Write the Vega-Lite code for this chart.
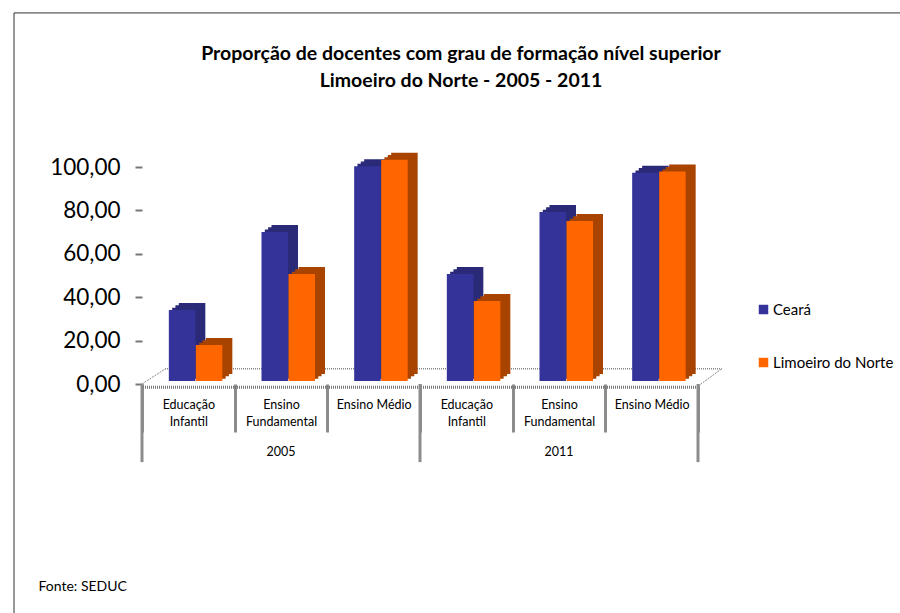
{"$schema":"https://vega.github.io/schema/vega-lite/v6.json","width":556,"height":217,"autosize":"none","padding":{"left":142,"top":167,"right":202,"bottom":229},"background":"white","config":{"view":{"stroke":null},"font":"Lato"},
"title":{"text":["Proporção de docentes com grau de formação nível superior","Limoeiro do Norte - 2005 - 2011"],"font":"Lato","fontSize":19.5,"fontWeight":"bold","color":"#000000","anchor":"middle","frame":"group","offset":0,"dy":79,"dx":41,"lineHeight":27},
"datasets":{"barras":[
{"chave":"2005 Educação Infantil","serie":"Ceará","valor":32.7},{"chave":"2005 Educação Infantil","serie":"Limoeiro do Norte","valor":16.6},
{"chave":"2005 Ensino Fundamental","serie":"Ceará","valor":68.7},{"chave":"2005 Ensino Fundamental","serie":"Limoeiro do Norte","valor":49.3},
{"chave":"2005 Ensino Médio","serie":"Ceará","valor":99},{"chave":"2005 Ensino Médio","serie":"Limoeiro do Norte","valor":102},
{"chave":"2011 Educação Infantil","serie":"Ceará","valor":49.3},{"chave":"2011 Educação Infantil","serie":"Limoeiro do Norte","valor":36.9},
{"chave":"2011 Ensino Fundamental","serie":"Ceará","valor":77.9},{"chave":"2011 Ensino Fundamental","serie":"Limoeiro do Norte","valor":73.7},
{"chave":"2011 Ensino Médio","serie":"Ceará","valor":96},{"chave":"2011 Ensino Médio","serie":"Limoeiro do Norte","valor":96.5}]},
"data":{"name":"barras"},
"encoding":{"y":{"field":"valor","type":"quantitative","scale":{"domain":[0,100],"nice":false},"axis":{"title":null,"domain":false,"grid":false,"values":[0,20,40,60,80,100],"labelExpr":"replace(format(datum.value,'.2f'),'.',',')","labelFont":"Lato","labelFontSize":22.5,"labelColor":"#000000","tickColor":"#777777","tickWidth":2,"tickSize":7,"labelPadding":15}},
"x":{"field":"chave","type":"nominal","scale":{"paddingInner":0,"paddingOuter":0},"axis":{"title":"Fonte: SEDUC","titleX":-104,"titleY":202,"titleAlign":"left","titleBaseline":"middle","titleFont":"Lato","titleFontSize":14,"titleFontWeight":"normal","titleColor":"#000000","orient":"bottom","domain":false,"tickBand":"extent","tickSize":48,"tickColor":"#8c8c8c","tickWidth":3,"labelAngle":0,"labelPadding":-34,"labelBaseline":"top","labelLineHeight":17,"labelFont":"Lato","labelFontSize":12.5,"labelColor":"#000000","labelExpr":"!isString(datum.value) ? '' : indexof(datum.value,'Médio')>=0 ? 'Ensino Médio' : split(slice(datum.value,5),' ')"}}},
"layer":[
{"data":{"values":[{"chave":"2005 Educação Infantil","fim":"2011 Ensino Médio","v":171}]},"mark":{"type":"rule","color":"#333333","strokeWidth":1,"xOffset":-128,"x2Offset":249},"encoding":{"x":{"field":"chave","type":"nominal","bandPosition":0},"x2":{"field":"fim"},"y":{"field":"v","type":"quantitative"}}},
{"data":{"values":[{"chave":"2005 Educação Infantil","v":171,"v2":-106}]},"mark":{"type":"rule","color":"#333333","strokeWidth":1,"xOffset":-128},"encoding":{"x":{"field":"chave","type":"nominal","bandPosition":0},"y":{"field":"v","type":"quantitative"},"y2":{"field":"v2"}}},
{"data":{"values":[{"chave":"2005 Educação Infantil","fim":"2011 Ensino Médio","v":7}]},"mark":{"type":"rule","color":"#888888","strokeWidth":1.5,"strokeDash":[1,1],"xOffset":23,"x2Offset":70},"encoding":{"x":{"field":"chave","type":"nominal","bandPosition":0},"x2":{"field":"fim"},"y":{"field":"v","type":"quantitative"}}},
{"data":{"values":[{"v":-1.5}]},"mark":{"type":"rule","color":"#777777","strokeWidth":3,"strokeDash":[1,1]},"encoding":{"x":null,"y":{"field":"v","type":"quantitative"}}},
{"data":{"values":[{"chave":"2005 Educação Infantil","fim":"2005 Educação Infantil","v":0,"v2":7}]},"mark":{"type":"rule","color":"#888888","strokeWidth":1,"strokeDash":[2,1],"x2Offset":-23},"encoding":{"x":{"field":"chave","type":"nominal","bandPosition":0},"x2":{"field":"fim"},"y":{"field":"v","type":"quantitative"},"y2":{"field":"v2"}}},
{"data":{"values":[{"chave":"2011 Ensino Médio","fim":"2011 Ensino Médio","v":-1,"v2":7}]},"mark":{"type":"rule","color":"#888888","strokeWidth":1,"strokeDash":[2,1],"x2Offset":70},"encoding":{"x":{"field":"chave","type":"nominal","bandPosition":1},"x2":{"field":"fim"},"y":{"field":"v","type":"quantitative"},"y2":{"field":"v2"}}},
{"data":{"values":[{"chave":"2005 Educação Infantil","v":0,"v2":-36},{"chave":"2011 Educação Infantil","v":0,"v2":-36}]},"mark":{"type":"rule","color":"#8c8c8c","strokeWidth":3},"encoding":{"x":{"field":"chave","type":"nominal","bandPosition":0},"y":{"field":"v","type":"quantitative"},"y2":{"field":"v2"}}},
{"data":{"values":[{"chave":"2011 Ensino Médio","v":0,"v2":-36}]},"mark":{"type":"rule","color":"#8c8c8c","strokeWidth":3},"encoding":{"x":{"field":"chave","type":"nominal","bandPosition":1},"y":{"field":"v","type":"quantitative"},"y2":{"field":"v2"}}},
{"data":{"values":[{"chave":"2005 Ensino Fundamental","ano":"2005","v":-31.5},{"chave":"2011 Ensino Fundamental","ano":"2011","v":-31.5}]},"mark":{"type":"text","font":"Lato","fontSize":12.5,"color":"#000000"},"encoding":{"text":{"field":"ano"},"y":{"field":"v","type":"quantitative"}}},
{"transform":[{"filter":"datum.serie==='Ceará'"}],"mark":{"type":"bar","width":26.5,"color":"#2a2a78","xOffset":3.75,"yOffset":-10,"y2Offset":-10}},
{"transform":[{"filter":"datum.serie==='Ceará'"}],"mark":{"type":"bar","width":26.5,"color":"#2a2a78","xOffset":0.35,"yOffset":-7.7,"y2Offset":-7.7}},
{"transform":[{"filter":"datum.serie==='Ceará'"}],"mark":{"type":"bar","width":26.5,"color":"#2a2a78","xOffset":-2.95,"yOffset":-5.3,"y2Offset":-5.3}},
{"transform":[{"filter":"datum.serie==='Ceará'"}],"mark":{"type":"bar","width":26.5,"xOffset":-6.25,"yOffset":-3,"y2Offset":-3},"encoding":{"color":{"field":"serie","type":"nominal","scale":{"domain":["Ceará","Limoeiro do Norte"],"range":["#333399","#ff6600"]},"legend":{"orient":"none","legendX":614,"legendY":135,"title":null,"symbolType":"square","symbolSize":90,"symbolOpacity":1,"rowPadding":37,"labelFont":"Lato","labelFontSize":15,"labelColor":"#000000","labelOffset":2}}}},
{"transform":[{"filter":"datum.serie!=='Ceará'"}],"mark":{"type":"bar","width":26.5,"color":"#a84300","xOffset":30.75,"yOffset":-10,"y2Offset":-10}},
{"transform":[{"filter":"datum.serie!=='Ceará'"}],"mark":{"type":"bar","width":26.5,"color":"#a84300","xOffset":27.35,"yOffset":-7.7,"y2Offset":-7.7}},
{"transform":[{"filter":"datum.serie!=='Ceará'"}],"mark":{"type":"bar","width":26.5,"color":"#a84300","xOffset":24.05,"yOffset":-5.3,"y2Offset":-5.3}},
{"transform":[{"filter":"datum.serie!=='Ceará'"}],"mark":{"type":"bar","width":26.5,"xOffset":20.75,"yOffset":-3,"y2Offset":-3},"encoding":{"color":{"field":"serie","type":"nominal"}}}
]}
